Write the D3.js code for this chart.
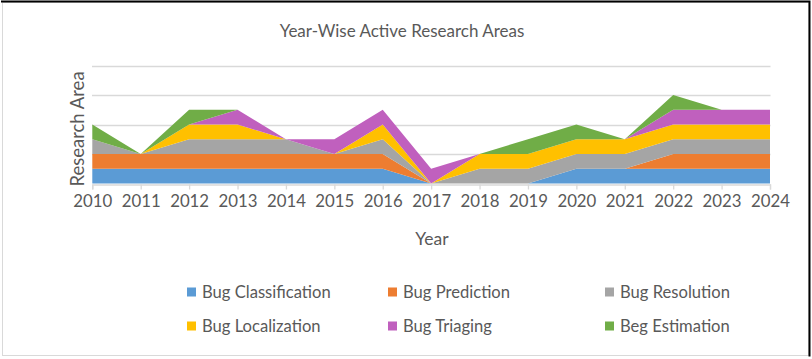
<!DOCTYPE html>
<html><head><meta charset="utf-8">
<script src="https://cdn.jsdelivr.net/npm/d3@7"></script>
<style>body{margin:0;background:#fff;} svg{display:block;}</style>
</head><body>
<svg id="c" width="812" height="359"></svg>
<script>
const years = [2010,2011,2012,2013,2014,2015,2016,2017,2018,2019,2020,2021,2022,2023,2024];
const seriesNames = ["Bug Classification","Bug Prediction","Bug Resolution","Bug Localization","Bug Triaging","Beg Estimation"];
const bugClassification = [1,1,1,1,1,1,1,0,0,0,1,1,1,1,1];
const bugPrediction     = [1,1,1,1,1,1,1,0,0,0,0,0,1,1,1];
const bugResolution     = [1,0,1,1,1,0,1,0,1,1,1,1,1,1,1];
const bugLocalization   = [0,0,1,1,0,0,1,0,1,1,1,1,1,1,1];
const bugTriaging       = [0,0,0,1,0,1,1,1,0,0,0,0,1,1,1];
const begEstimation     = [1,0,1,0,0,0,0,0,0,1,1,0,1,0,0];
const colors = ["#5B9BD5","#ED7D31","#A5A5A5","#FFC000","#C060BE","#70AD47"];
const yTicks = [0,2,4,6,8];

const allSeries = [bugClassification,bugPrediction,bugResolution,bugLocalization,bugTriaging,begEstimation];
const rows = years.map((y,i)=>{const r={year:y}; seriesNames.forEach((n,k)=>r[n]=allSeries[k][i]); return r;});

const svg = d3.select("#c");
const font = "Lato, 'Open Sans', sans-serif";
const txt = "#595959";

// frame
svg.append("rect").attr("x",2.5).attr("y",2.5).attr("width",806).attr("height",353)
  .attr("fill","#fff").attr("stroke","#d9d9d9").attr("stroke-width",1);
svg.append("path").attr("d","M1,1.5H809.5V356.5").attr("fill","none").attr("stroke","#000").attr("stroke-width",2);

const x = d3.scalePoint().domain(years).range([92.3,770]);
const y = d3.scaleLinear().domain([0,8]).range([183.5,65.5]);

// gridlines
svg.append("g").selectAll("line").data(yTicks.filter(t=>t>0)).join("line")
  .attr("x1",92).attr("x2",770.5).attr("y1",d=>Math.round(y(d))+0.5).attr("y2",d=>Math.round(y(d))+0.5)
  .attr("stroke","#d9d9d9").attr("stroke-width",1.3);

const stack = d3.stack().keys(seriesNames)(rows);
const area = d3.area().x(d=>x(d.data.year)).y0(d=>y(d[0])).y1(d=>y(d[1]));
svg.append("g").selectAll("path").data(stack).join("path")
  .attr("d",area).attr("fill",(d,i)=>colors[i]);

// x axis
const xAxis = d3.axisBottom(x).tickSize(5).tickPadding(8);
const gx = svg.append("g").attr("transform",`translate(0,${Math.round(y(0))+0.5})`).call(xAxis);
gx.select(".domain").attr("stroke","#d9d9d9").attr("stroke-width",1.3);
gx.selectAll(".tick line").attr("stroke","#d9d9d9").attr("stroke-width",1.3);
gx.selectAll(".tick text").attr("fill",txt).attr("font-family",font).attr("font-size",16.8).attr("dy","0.55em");

// title
svg.append("text").attr("x",402).attr("y",37).attr("text-anchor","middle")
  .attr("font-family",font).attr("font-size",17).attr("fill",txt).text("Year-Wise Active Research Areas");
// axis titles
svg.append("text").attr("x",432).attr("y",245).attr("text-anchor","middle")
  .attr("font-family",font).attr("font-size",17.5).attr("fill",txt).text("Year");
svg.append("text").attr("transform","translate(84,129) rotate(-90)").attr("text-anchor","middle")
  .attr("font-family",font).attr("font-size",18.5).attr("fill",txt).text("Research Area");

// legend
const legX = [187,388,605], legY = [292,326];
const lg = svg.append("g").selectAll("g").data(seriesNames).join("g")
  .attr("transform",(d,i)=>`translate(${legX[i%3]},${legY[Math.floor(i/3)]})`);
lg.append("rect").attr("x",0).attr("y",-4.5).attr("width",9).attr("height",9).attr("fill",(d,i)=>colors[i]);
lg.append("text").attr("x",15).attr("y",0).attr("dy","0.35em").attr("font-family",font)
  .attr("font-size",16.6).attr("fill",txt).text(d=>d);
</script>
</body></html>
